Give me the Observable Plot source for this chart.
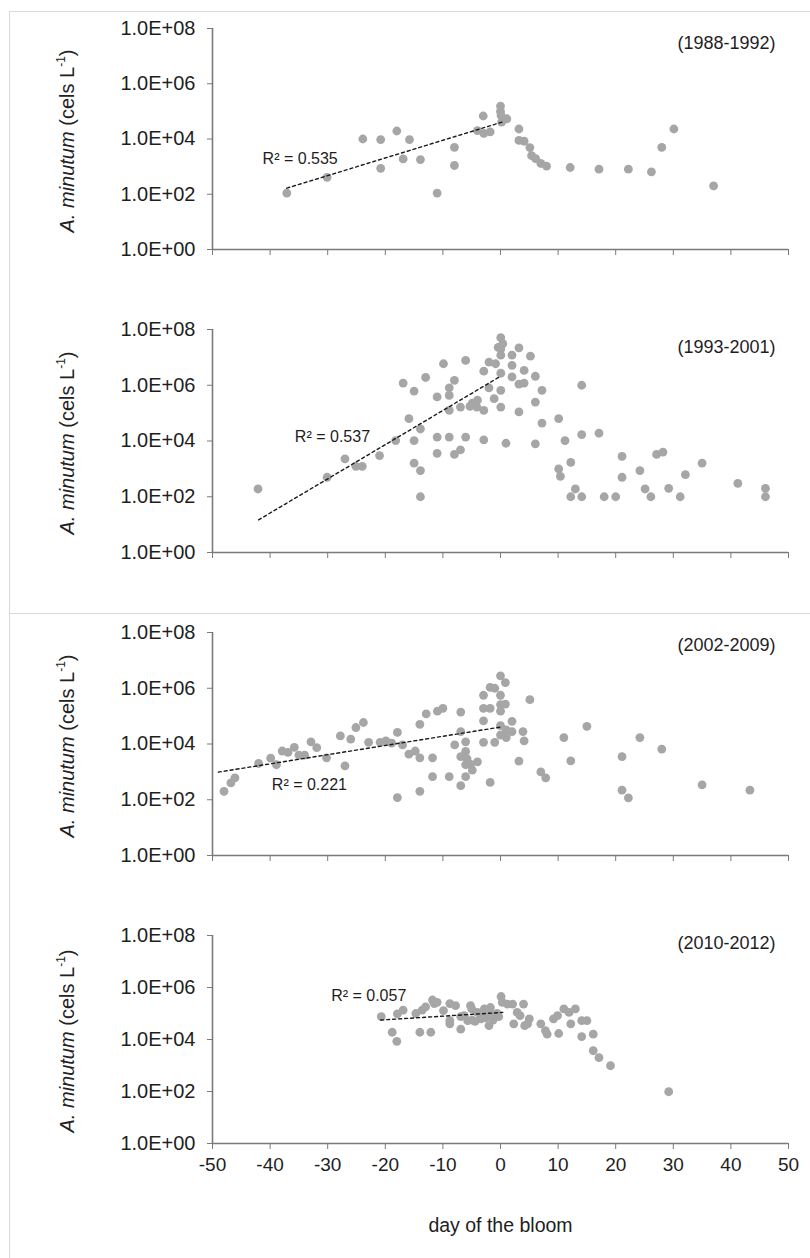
<!DOCTYPE html>
<html>
<head>
<meta charset="utf-8">
<script src="https://cdn.jsdelivr.net/npm/d3@7"></script>
<script src="https://cdn.jsdelivr.net/npm/@observablehq/plot@0.6"></script>
<style>
  html, body { margin: 0; padding: 0; background: #fff; }
  #wrap { position: relative; width: 810px; height: 1258px; overflow: hidden; font-family: "Liberation Sans", Arial, sans-serif; }
  .hline { position: absolute; height: 0; border-top: 1.5px solid #d9d9d9; }
  .vline { position: absolute; width: 0; border-left: 1.5px solid #d9d9d9; }
  .panel { position: absolute; left: 0; }
  .ytitle { position: absolute; width: 0; height: 0; }
  .ytitle span { position: absolute; left: 0; top: 0; transform: translate(-50%, -50%) rotate(-90deg); white-space: nowrap; font-size: 20px; color: #222; }
  .ytitle sup { font-size: 0.6em; vertical-align: 0.7em; line-height: 0; }
</style>
</head>
<body>
<div id="wrap">
  <div class="hline" style="left:9px; top:11px; width:801px;"></div>
  <div class="vline" style="left:9px; top:11px; height:1247px;"></div>
  <div class="hline" style="left:9px; top:613px; width:801px;"></div>
</div>
<script>
// ---- data: [day of the bloom, A. minutum cells per litre] ----
const period1988 = [[-37.1,110],[-30.1,410],[-23.9,10000],[-20.8,9500],[-20.8,870],[-18.0,19500],[-16.9,1900],[-15.8,9500],[-13.9,1800],[-11.0,110],[-8.0,5000],[-8.0,1100],[-4.0,20000],[-3.0,68000],[-2.9,16000],[-1.8,18000],[0.0,155000],[0.0,100000],[0.1,71000],[0.2,41000],[1.1,54000],[3.2,23000],[3.2,8900],[4.1,8300],[5.1,4900],[5.4,2500],[6.1,1950],[7.0,1300],[8.0,1050],[12.1,930],[17.1,810],[22.2,810],[26.2,650],[28.0,5000],[30.1,23000],[37.0,200]];

const period1993 = [[-42.1,190],[-30.1,500],[-27.0,2300],[-25.1,1230],[-24.0,1230],[-21.0,3000],[-18.2,10400],[-16.9,1200000],[-15.9,63000],[-15.0,620000],[-15.0,10400],[-15.0,1600],[-13.9,870],[-13.9,100],[-13.9,27000],[-13.0,1900000],[-11.0,380000],[-11.0,13800],[-11.0,3600],[-9.9,5900000],[-8.9,810000],[-8.9,430000],[-8.9,126000],[-8.9,13800],[-8.0,1500000],[-8.0,3300],[-6.95,4800],[-6.95,165000],[-6.05,7800000],[-6.05,13800],[-5.3,174000],[-4.9,230000],[-4.1,165000],[-4.0,290000],[-2.9,3200000],[-2.9,125000],[-2.9,11000],[-2.0,6800000],[-2.0,810000],[-1.1,330000],[-0.85,5900000],[-0.4,23000000],[0.05,51000000],[0.05,20000000],[0.05,12000000],[0.05,2700000],[0.05,660000],[0.05,165000],[0.4,31000000],[0.95,8300],[2.0,12000000],[2.0,5200000],[2.0,2000000],[3.2,22000000],[3.2,1100000],[3.2,110000],[4.1,3400000],[4.1,1200000],[5.2,11000000],[6.05,2100000],[6.05,250000],[6.05,7900],[7.2,660000],[7.2,44000],[10.1,63000],[10.1,1000],[10.4,540],[11.2,10400],[12.2,1700],[12.2,100],[13.0,190],[14.1,100],[14.1,1000000],[14.1,17000],[17.1,19000],[18.0,100],[20.0,100],[21.1,2800],[21.1,500],[24.2,870],[25.1,190],[26.1,100],[27.1,3300],[28.2,4000],[29.2,200],[31.2,100],[32.1,620],[35.0,1600],[41.2,300],[46.0,200],[46.0,100]];

const period2002 = [[-48.0,200],[-46.8,400],[-46.1,610],[-42.0,2000],[-39.9,3100],[-38.9,1800],[-37.9,5600],[-36.9,5000],[-35.8,7600],[-35.0,4000],[-34.0,4000],[-32.9,12000],[-31.9,7400],[-30.2,3200],[-27.8,19500],[-27.0,1650],[-26.0,15000],[-25.1,39000],[-23.8,59000],[-22.9,11500],[-20.9,11500],[-19.9,13000],[-18.9,10700],[-17.9,26000],[-17.9,120],[-17.0,9300],[-15.9,4300],[-14.8,5600],[-14.0,51000],[-14.0,3200],[-14.0,200],[-12.9,120000],[-11.8,3200],[-11.8,670],[-10.95,150000],[-10.0,190000],[-8.9,670],[-7.95,9300],[-6.9,140000],[-6.9,28000],[-6.9,3500],[-6.9,320],[-6.05,12000],[-6.05,5400],[-6.05,1800],[-6.05,670],[-5.8,2900],[-5.2,1860],[-4.9,1150],[-4.0,2300],[-2.95,560000],[-2.95,190000],[-2.95,68000],[-2.95,11500],[-1.8,1070000],[-1.8,190000],[-1.8,420],[-1.0,1000000],[-1.0,11500],[0.0,2800000],[0.0,560000],[0.0,260000],[0.0,150000],[0.0,46000],[0.0,21000],[0.85,1600000],[0.85,270000],[1.0,32000],[1.0,17000],[2.0,65000],[2.0,28000],[3.2,2450],[3.9,28000],[4.1,13000],[5.1,390000],[7.0,1000],[7.85,610],[11.0,17000],[12.2,2500],[15.0,43000],[21.1,3500],[21.1,220],[22.2,117],[24.2,17000],[28.0,6600],[35.0,340],[43.3,220]];

const period2010 = [[-20.7,76000],[-18.8,19000],[-18.0,8500],[-17.9,96000],[-16.9,136000],[-14.7,100000],[-14.0,19000],[-13.6,136000],[-13.0,180000],[-12.1,19000],[-11.8,330000],[-11.5,240000],[-11.0,270000],[-9.9,130000],[-8.8,53000],[-8.8,40000],[-8.8,240000],[-7.8,200000],[-6.9,25000],[-6.9,76000],[-6.3,83000],[-5.7,53000],[-5.2,200000],[-5.0,150000],[-4.9,56000],[-4.4,50000],[-4.0,110000],[-3.4,76000],[-3.4,62000],[-2.8,150000],[-2.6,68000],[-2.0,34000],[-1.75,170000],[-1.7,96000],[-1.3,56000],[-0.6,100000],[-0.3,76000],[0.1,450000],[0.3,270000],[1.2,230000],[2.1,230000],[2.3,40000],[2.9,110000],[3.4,83000],[4.0,230000],[4.2,34000],[4.7,40000],[5.0,62000],[7.0,40000],[7.8,22000],[8.1,16000],[9.2,62000],[9.9,83000],[10.1,17000],[11.0,150000],[11.9,110000],[12.2,40000],[13.0,150000],[14.1,53000],[15.0,53000],[14.1,13000],[16.1,16000],[16.1,3700],[17.1,2000],[19.1,980],[29.2,98]];

// exponential trend lines (start, end)
const trend1988 = [[-37.1,166],[0.3,41000]];
const trend1993 = [[-42.0,14.8],[0.0,2100000]];
const trend2002 = [[-49.0,980],[0.2,41000]];
const trend2010 = [[-20.8,56000],[0.4,110000]];

const periodLabels = ["(1988-1992)", "(1993-2001)", "(2002-2009)", "(2010-2012)"];
const r2Labels = ["R² = 0.535", "R² = 0.537", "R² = 0.221", "R² = 0.057"];
const r2Anchor = [[-41.3, 1860], [-35.7, 13500], [-39.7, 350], [-29.4, 490000]];
const xTicks = [-50, -40, -30, -20, -10, 0, 10, 20, 30, 40, 50];
const yTicks = [1, 1e2, 1e4, 1e6, 1e8];
const xTitle = "day of the bloom";

// ---- layout ----
const panels = [
  {data: period1988, trend: trend1988, top: 28, bottom: 249, yearDy: 15},
  {data: period1993, trend: trend1993, top: 329, bottom: 552, yearDy: 18},
  {data: period2002, trend: trend2002, top: 632, bottom: 855, yearDy: 13},
  {data: period2010, trend: trend2010, top: 935, bottom: 1143, yearDy: 8}
];

const fmtY = d => "1.0E+" + String(Math.round(Math.log10(d))).padStart(2, "0");
const axisGrey = "#7a7a7a";
const wrap = document.getElementById("wrap");

panels.forEach((p, i) => {
  const last = i === panels.length - 1;
  const mt = 20, mb = last ? 105 : 20;
  const h = mt + (p.bottom - p.top) + mb;
  const marks = [
    Plot.axisY({ticks: yTicks, tickFormat: fmtY, tickSize: 5, tickPadding: 12, stroke: axisGrey, fill: "#1e1e1e", fontSize: 20, label: null}),
    Plot.axisX({ticks: xTicks, tickSize: 6, tickPadding: 8, stroke: axisGrey, fill: "#1e1e1e", fontSize: 19,
                tickFormat: last ? (d => String(d)) : (() => ""), label: null}),
    Plot.ruleX([-50], {stroke: axisGrey, strokeWidth: 1.6}),
    Plot.ruleY([1], {stroke: axisGrey, strokeWidth: 1.6}),
    Plot.dot(p.data, {x: d => d[0], y: d => d[1], r: 4.4, fill: "#a6a6a6", stroke: "none"}),
    Plot.line(p.trend, {x: d => d[0], y: d => d[1], stroke: "#1a1a1a", strokeWidth: 1.4, strokeDasharray: "3,3"}),
    Plot.text([r2Labels[i]], {x: r2Anchor[i][0], y: r2Anchor[i][1], textAnchor: "start", lineAnchor: "middle", fontSize: 16, fill: "#1e1e1e"}),
    Plot.text([periodLabels[i]], {frameAnchor: "top-right", textAnchor: "end", lineAnchor: "middle", dx: -13, dy: p.yearDy, fontSize: 18, fill: "#1e1e1e"})
  ];
  if (last) marks.push(Plot.text([xTitle], {frameAnchor: "bottom", lineAnchor: "middle", dy: 82, fontSize: 19.5, fill: "#1e1e1e"}));
  const chart = Plot.plot({
    width: 810, height: h,
    marginLeft: 212, marginRight: 22, marginTop: mt, marginBottom: mb,
    style: {background: "transparent", fontFamily: "'Liberation Sans', Arial, sans-serif", overflow: "visible"},
    x: {domain: [-50, 50]},
    y: {type: "log", domain: [1, 1e8]},
    marks
  });
  const holder = document.createElement("div");
  holder.className = "panel";
  holder.style.top = (p.top - mt) + "px";
  holder.appendChild(chart);
  wrap.appendChild(holder);

  const t = document.createElement("div");
  t.className = "ytitle";
  t.style.left = "67px";
  t.style.top = ((p.top + p.bottom) / 2 + 2) + "px";
  t.innerHTML = '<span><i>A. minutum</i> (cels L<sup>-1</sup>)</span>';
  wrap.appendChild(t);
});
</script>
</body>
</html>
